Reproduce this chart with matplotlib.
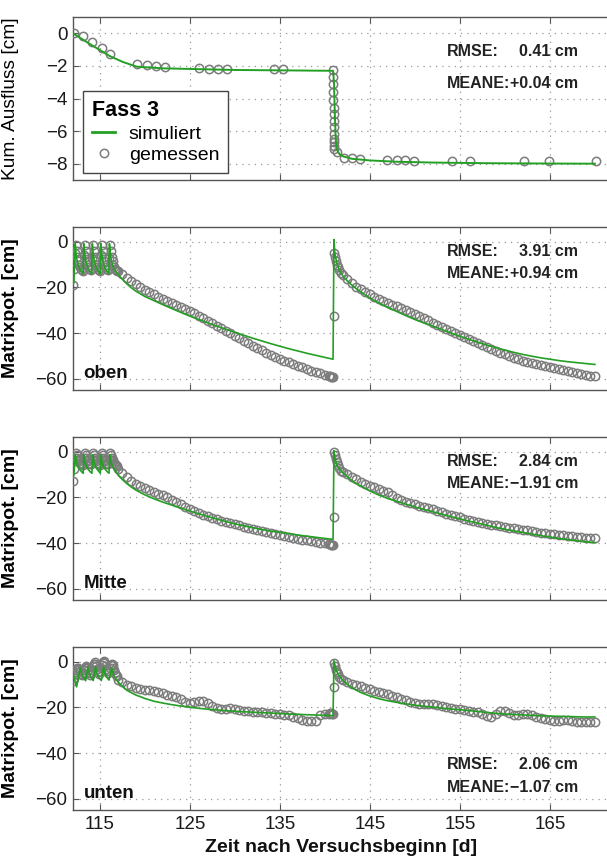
import matplotlib
matplotlib.use("Agg")
import matplotlib.pyplot as plt
from matplotlib.lines import Line2D

plt.rcParams['font.family'] = ['Liberation Sans', 'DejaVu Sans']

GREEN = "#23a023"
GRAY = "#7c7c7c"

# ---------------- Kumulativer Ausfluss ----------------
t_q_mess = [112.1, 113.1, 114.1, 115.2, 116.1, 119.1, 120.2, 121.2, 122.2,
            126.0, 127.1, 128.1, 129.1, 134.3, 135.3,
            140.9, 140.9, 140.9, 140.9, 140.9, 140.95, 140.95, 140.95,
            141.0, 141.0, 141.0, 141.0, 141.0, 141.05, 141.3,
            142.1, 143.0, 143.9, 146.9, 148.0, 148.9, 149.9, 154.1, 156.1,
            162.1, 164.9, 170.1]
q_mess = [0.0, -0.14, -0.51, -0.92, -1.27, -1.86, -1.92, -2.0, -2.06,
          -2.14, -2.18, -2.18, -2.18, -2.22, -2.22,
          -2.24, -2.69, -3.14, -3.61, -4.12, -4.57, -4.94, -5.35,
          -5.76, -6.17, -6.48, -6.69, -6.9, -7.1, -7.3,
          -7.62, -7.68, -7.7, -7.78, -7.8, -7.8, -7.82, -7.84, -7.85,
          -7.86, -7.86, -7.86]

t_q_sim = [112.0, 114.0, 116.1, 117.5, 119.1, 122.0, 130.0, 140.9,
           141.0, 141.1, 141.2, 141.3, 141.6, 142.0, 143.0, 145.0,
           148.0, 152.0, 158.0, 165.0, 170.0]
q_sim = [0.0, -0.7, -1.4, -1.75, -2.05, -2.15, -2.25, -2.3,
         -3.0, -5.0, -6.5, -7.1, -7.4, -7.55, -7.7, -7.8,
         -7.88, -7.93, -7.97, -7.99, -8.0]

# ---------------- Tensiometer: Messzeitpunkte ----------------
t_osc = [112.0, 112.1, 112.2, 112.3, 112.4, 112.5, 112.6, 112.7, 112.8, 112.9,
         113.0, 113.1, 113.2, 113.3, 113.4, 113.5, 113.6, 113.7, 113.8, 113.9,
         114.0, 114.1, 114.2, 114.3, 114.4, 114.5, 114.6, 114.7, 114.8, 114.9,
         115.0, 115.1, 115.2, 115.3, 115.4, 115.5, 115.6, 115.7, 115.8, 115.9,
         116.0, 116.1, 116.2, 116.3, 116.4, 116.5, 116.6, 116.7, 116.8, 116.9]
t_dec1 = [117.0, 117.5, 118.0, 118.5, 119.0, 119.5, 120.0, 120.5, 121.0, 121.5,
          122.0, 122.5, 123.0, 123.5, 124.0, 124.5, 125.0, 125.5, 126.0, 126.5,
          127.0, 127.5, 128.0, 128.5, 129.0, 129.5, 130.0, 130.5, 131.0, 131.5,
          132.0, 132.5, 133.0, 133.5, 134.0, 134.5, 135.0, 135.5, 136.0, 136.5,
          137.0, 137.5, 138.0, 138.5, 139.0, 139.5, 140.0, 140.5]
t_pre = [140.6, 140.7, 140.8, 140.9]
t_jump = [141.0, 141.05, 141.1, 141.2, 141.3, 141.4, 141.6, 141.8]
t_dec2 = [142.0, 142.5, 143.0, 143.5, 144.0, 144.5, 145.0, 145.5, 146.0, 146.5,
          147.0, 147.5, 148.0, 148.5, 149.0, 149.5, 150.0, 150.5, 151.0, 151.5,
          152.0, 152.5, 153.0, 153.5, 154.0, 154.5, 155.0, 155.5, 156.0, 156.5,
          157.0, 157.5, 158.0, 158.5, 159.0, 159.5, 160.0, 160.5, 161.0, 161.5,
          162.0, 162.5, 163.0, 163.5, 164.0, 164.5, 165.0, 165.5, 166.0, 166.5,
          167.0, 167.5, 168.0, 168.5, 169.0, 169.5, 170.0]
t_tens = t_osc + t_dec1 + t_pre + t_jump + t_dec2

# ---------------- oben ----------------
psi_oben = (
    [-19.0, -12.0, -5.0, -1.5, -4.0, -6.5, -8.5, -10.0, -11.0, -11.8,
     -12.3, -12.6, -6.0, -1.5, -4.0, -6.5, -8.5, -10.0, -11.0, -11.8,
     -12.3, -7.0, -1.5, -4.0, -6.5, -8.5, -10.0, -11.0, -11.8, -12.3,
     -12.6, -6.0, -1.5, -4.0, -6.5, -8.5, -10.0, -11.0, -11.8, -12.3,
     -7.0, -1.5, -4.0, -6.5, -8.5, -10.0, -11.0, -11.8, -12.4, -13.0]
    + [-12.8, -14.3, -15.8, -17.2, -18.5, -19.8, -21.0, -22.1, -23.1, -24.1,
       -25.0, -25.9, -26.8, -27.7, -28.6, -29.5, -30.4, -31.4, -32.4, -33.5,
       -34.6, -35.7, -36.8, -37.9, -39.0, -40.1, -41.2, -42.3, -43.4, -44.5,
       -45.6, -46.6, -47.6, -48.6, -49.5, -50.4, -51.3, -52.1, -52.9, -53.7,
       -54.4, -55.1, -55.8, -56.5, -57.1, -57.7, -58.3, -58.8]
    + [-59.0, -59.2, -59.4, -59.5]
    + [-32.6, -5.0, -6.5, -8.5, -10.0, -11.2, -12.5, -13.6]
    + [-14.5, -16.5, -18.2, -19.6, -20.9, -22.0, -23.0, -24.0, -24.9, -25.8,
       -26.7, -27.5, -28.3, -29.1, -30.0, -30.9, -31.8, -32.7, -33.6, -34.5,
       -35.4, -36.3, -37.2, -38.1, -39.1, -40.0, -40.9, -41.8, -42.7, -43.6,
       -44.4, -45.2, -46.0, -46.9, -47.8, -48.6, -49.4, -50.2, -50.9, -51.5,
       -52.1, -52.6, -53.1, -53.6, -54.1, -54.5, -54.9, -55.4, -55.9, -56.3,
       -56.8, -57.2, -57.6, -58.0, -58.4, -58.7, -59.0])

t_sim_oben = [112.0, 112.1, 112.25, 112.35, 112.45, 112.6, 112.75, 112.95, 113.13,
              113.2, 113.3, 113.4, 113.55, 113.7, 113.9, 114.08,
              114.15, 114.25, 114.35, 114.5, 114.65, 114.85, 115.03,
              115.1, 115.2, 115.3, 115.45, 115.6, 115.8, 115.98,
              116.05, 116.15, 116.25, 116.4, 116.55, 116.75,
              117.0, 117.5, 118.0, 118.5, 119.0, 120.0, 121.0, 122.0, 123.0, 124.0,
              125.0, 126.0, 127.0, 128.0, 129.0, 130.0, 131.0, 132.0, 133.0, 134.0,
              135.0, 136.0, 137.0, 138.0, 139.0, 140.0, 140.9,
              141.0, 141.1, 141.3, 141.6, 142.0, 142.5, 143.0, 143.5, 144.0, 145.0,
              146.0, 147.0, 148.0, 149.0, 150.0, 151.0, 152.0, 153.0, 154.0, 155.0,
              156.0, 157.0, 158.0, 159.0, 160.0, 161.0, 162.0, 163.0, 164.0, 165.0,
              166.0, 167.0, 168.0, 169.0, 170.0]
sim_oben = [-18.5, -18.0, -0.8, -5.5, -8.0, -10.3, -11.8, -13.1, -14.0,
            -0.8, -5.5, -8.0, -10.3, -11.8, -13.1, -14.0,
            -0.8, -5.5, -8.0, -10.3, -11.8, -13.1, -14.0,
            -0.8, -5.5, -8.0, -10.3, -11.8, -13.1, -14.0,
            -0.8, -5.5, -8.0, -10.3, -11.8, -13.1,
            -14.3, -16.5, -18.5, -20.2, -21.7, -24.0, -25.8, -27.6, -29.3, -31.0,
            -32.6, -34.1, -35.6, -37.0, -38.4, -39.7, -41.0, -42.3, -43.5, -44.7,
            -45.8, -46.9, -47.9, -48.9, -49.8, -50.7, -51.5,
            1.0, -5.0, -9.0, -12.5, -15.0, -17.2, -19.0, -20.6, -22.1, -24.7,
            -26.9, -28.8, -30.6, -32.4, -34.1, -35.6, -37.0, -38.5, -40.0, -41.4,
            -42.8, -44.1, -45.3, -46.4, -47.5, -48.5, -49.4, -50.2, -50.9, -51.5,
            -52.1, -52.6, -53.0, -53.4, -53.8]

# ---------------- Mitte ----------------
psi_mitte = (
    [-13.0, -7.5, -2.5, -0.5, -1.5, -2.6, -3.5, -4.2, -4.8, -5.2,
     -5.5, -5.7, -2.5, -0.5, -1.5, -2.6, -3.5, -4.2, -4.8, -5.2,
     -5.5, -3.0, -0.5, -1.5, -2.6, -3.5, -4.2, -4.8, -5.2, -5.5,
     -5.7, -2.5, -0.5, -1.5, -2.6, -3.5, -4.2, -4.8, -5.2, -5.5,
     -3.0, -0.5, -1.5, -2.6, -3.5, -4.2, -4.8, -5.3, -5.8, -6.4]
    + [-7.6, -9.4, -11.0, -12.6, -13.9, -15.0, -16.0, -16.9, -17.6, -18.3,
       -19.1, -20.0, -21.0, -22.0, -23.1, -24.2, -25.1, -26.0, -26.8, -27.6,
       -28.3, -29.0, -29.6, -30.2, -30.8, -31.3, -31.8, -32.3, -32.8, -33.3,
       -33.8, -34.3, -34.8, -35.3, -35.7, -36.1, -36.5, -36.9, -37.3, -37.7,
       -38.1, -38.5, -38.9, -39.2, -39.5, -39.8, -40.1, -40.4]
    + [-40.6, -40.7, -40.8, -41.0]
    + [-28.4, 0.0, -1.5, -3.0, -4.5, -6.0, -7.3, -8.4]
    + [-9.0, -9.9, -10.9, -12.0, -13.1, -14.0, -14.8, -15.6, -16.3, -17.0,
       -17.8, -18.9, -20.1, -21.0, -21.8, -22.5, -23.1, -23.7, -24.2, -24.7,
       -25.3, -25.9, -26.5, -27.1, -27.6, -28.1, -28.7, -29.3, -29.8, -30.2,
       -30.7, -31.1, -31.5, -31.9, -32.2, -32.5, -32.9, -33.3, -33.6, -33.9,
       -34.2, -34.5, -34.8, -35.1, -35.4, -35.6, -35.9, -36.2, -36.4, -36.7,
       -36.9, -37.1, -37.3, -37.5, -37.6, -37.8, -37.9])

t_sim_mitte = [112.0, 112.1, 112.25, 112.35, 112.5, 112.7, 112.95, 113.13,
               113.2, 113.3, 113.45, 113.65, 113.9, 114.1,
               114.2, 114.3, 114.45, 114.65, 114.9, 115.03,
               115.1, 115.2, 115.35, 115.55, 115.8, 116.0,
               116.1, 116.2, 116.35, 116.55, 116.8,
               117.0, 117.5, 118.0, 118.5, 119.0, 119.5, 120.0, 121.0, 122.0, 123.0,
               124.0, 125.0, 126.0, 127.0, 128.0, 129.0, 130.0, 131.0, 132.0, 133.0,
               134.0, 135.0, 136.0, 137.0, 138.0, 139.0, 140.0, 140.9,
               141.0, 141.15, 141.4, 141.7, 142.0, 142.5, 143.0, 143.5, 144.0, 145.0,
               146.0, 147.0, 148.0, 149.0, 150.0, 151.0, 152.0, 153.0, 154.0, 155.0,
               156.0, 157.0, 158.0, 159.0, 160.0, 161.0, 162.0, 163.0, 164.0, 165.0,
               166.0, 167.0, 168.0, 169.0, 170.0]
sim_mitte = [-10.5, -10.3, -1.3, -4.0, -6.0, -7.5, -8.7, -9.4,
             -1.3, -4.0, -6.0, -7.5, -8.7, -9.4,
             -1.3, -4.0, -6.0, -7.5, -8.7, -9.4,
             -1.3, -4.0, -6.0, -7.5, -8.7, -9.4,
             -1.3, -4.0, -6.0, -7.5, -8.8,
             -10.2, -12.2, -14.0, -15.5, -16.8, -17.9, -18.9, -20.6, -22.1, -23.4,
             -24.7, -26.0, -27.2, -28.4, -29.5, -30.6, -31.6, -32.5, -33.3, -34.1,
             -34.8, -35.3, -35.9, -36.5, -37.0, -37.5, -38.0, -38.4,
             0.5, -3.5, -6.5, -8.0, -9.2, -11.0, -12.7, -14.0, -15.0, -17.2,
             -19.0, -20.5, -21.7, -23.0, -24.2, -25.3, -26.3, -27.4, -28.4, -29.4,
             -30.4, -31.3, -32.2, -33.2, -34.0, -34.7, -35.4, -36.1, -36.8, -37.4,
             -38.0, -38.5, -39.0, -39.5, -39.9]

# ---------------- unten ----------------
psi_unten = (
    [-8.5, -7.0, -5.5, -4.3, -3.4, -2.8, -2.5, -3.2, -4.2, -5.2,
     -6.0, -5.0, -3.8, -2.8, -2.2, -2.0, -2.8, -3.8, -4.8, -5.6,
     -5.0, -3.5, -2.0, -0.8, 0.0, -0.8, -2.0, -3.2, -4.3, -5.2,
     -4.2, -2.8, -1.3, -0.2, 0.3, -0.5, -1.8, -3.0, -4.2, -5.0,
     -4.2, -2.8, -1.5, -0.8, -1.5, -2.6, -3.7, -4.7, -5.6, -6.4]
    + [-8.0, -9.0, -10.0, -10.8, -11.4, -11.8, -12.2, -12.5, -12.8, -13.2,
       -13.8, -14.4, -15.0, -15.5, -16.5, -17.6, -18.0, -17.6, -17.3, -17.1,
       -17.9, -19.3, -20.2, -20.7, -20.9, -20.2, -20.8, -21.3, -21.5, -21.6,
       -21.8, -22.0, -22.2, -22.3, -22.5, -22.8, -23.0, -23.3, -23.5, -24.0,
       -24.7, -25.5, -26.0, -26.0, -26.0, -23.5, -23.0, -22.8]
    + [-22.6, -22.5, -22.8, -23.0]
    + [-11.0, -0.7, -2.0, -3.5, -4.5, -5.5, -6.5, -7.5]
    + [-8.0, -8.7, -9.6, -10.3, -10.8, -11.4, -12.0, -12.6, -13.2, -13.8,
       -14.3, -14.9, -15.6, -16.2, -16.9, -17.5, -18.0, -18.3, -18.5, -18.6,
       -18.7, -19.0, -19.3, -19.7, -20.1, -20.5, -20.9, -21.3, -21.7, -21.8,
       -22.0, -22.8, -23.8, -24.2, -23.0, -21.7, -21.6, -22.5, -23.5, -23.3,
       -23.0, -22.8, -23.5, -24.3, -24.8, -25.2, -25.4, -25.9, -26.0, -25.7,
       -25.6, -25.8, -26.2, -26.5, -26.3, -26.4, -26.5])

t_sim_unten = [112.0, 112.4, 112.8, 112.9, 113.05, 113.25, 113.4,
               113.65, 113.75, 113.9, 114.1, 114.25,
               114.5, 114.6, 114.75, 114.95, 115.15,
               115.4, 115.5, 115.65, 115.85, 116.0,
               116.3, 116.4, 116.55, 116.75,
               117.0, 117.5, 118.0, 118.5, 119.0, 119.5, 120.0, 121.0, 122.0, 123.0,
               124.0, 125.0, 126.0, 127.0, 128.0, 129.0, 130.0, 132.0, 134.0, 136.0,
               138.0, 140.9,
               141.0, 141.2, 141.5, 142.0, 142.5, 143.0, 143.5, 144.0, 145.0, 146.0,
               147.0, 148.0, 149.0, 150.0, 151.0, 152.0, 153.0, 154.0, 155.0, 156.0,
               157.0, 158.0, 159.0, 160.0, 161.0, 162.0, 163.0, 164.0, 165.0, 166.0,
               167.0, 168.0, 169.0, 170.0]
sim_unten = [-5.0, -11.0, -2.5, -4.3, -6.0, -7.3, -8.3,
             -2.4, -4.3, -6.0, -7.3, -8.2,
             -2.3, -4.3, -6.0, -7.3, -8.2,
             -2.3, -4.3, -6.0, -7.3, -8.0,
             -2.5, -4.3, -6.0, -7.3,
             -8.8, -10.8, -12.5, -13.6, -14.6, -15.3, -16.1, -17.3, -18.1, -18.8,
             -19.4, -19.9, -20.4, -20.8, -21.1, -21.4, -21.7, -22.1, -22.5, -22.9,
             -23.2, -23.6,
             0.5, -3.0, -5.8, -8.2, -10.0, -11.3, -12.5, -13.5, -15.0, -16.2,
             -17.1, -17.8, -18.5, -19.0, -19.5, -19.9, -20.3, -20.7, -21.0, -21.4,
             -21.8, -22.2, -22.6, -22.9, -23.1, -23.3, -23.5, -23.7, -23.8, -23.9,
             -24.0, -24.1, -24.2, -24.2]

ylabels = ["Kum. Ausfluss [cm]", "Matrixpot. [cm]", "Matrixpot. [cm]", "Matrixpot. [cm]"]
tiefen = [None, "oben", "Mitte", "unten"]
rmse = ["0.41 cm", "3.91 cm", "2.84 cm", "2.06 cm"]
meane = ["+0.04 cm", "+0.94 cm", "\u22121.91 cm", "\u22121.07 cm"]
xticks = [115, 125, 135, 145, 155, 165]

# ---------------- Layout (Pixel der Vorlage) ----------------
W, H = 607.0, 860.0
x0, x1 = 73.0, 607.5
tops = [17, 227, 437, 647]
ph = 163.0
stat_y = [(0.791, 0.595), (0.848, 0.716), (0.848, 0.716), (0.282, 0.139)]

fig = plt.figure(figsize=(W / 100, H / 100), dpi=100)
axes = [fig.add_axes([x0 / W, 1 - (top + ph) / H, (x1 - x0) / W, ph / H]) for top in tops]

series = [(t_tens, psi_oben, t_sim_oben, sim_oben),
          (t_tens, psi_mitte, t_sim_mitte, sim_mitte),
          (t_tens, psi_unten, t_sim_unten, sim_unten)]

mk = dict(marker="o", ls="none", mfc="none", mec=GRAY, ms=6, mew=1.1)

ax = axes[0]
ax.plot(t_q_mess, q_mess, zorder=3, **mk)
ax.plot(t_q_sim, q_sim, color=GREEN, lw=1.4, zorder=4)
ax.set_ylim(-9, 1)
ax.set_yticks([0, -2, -4, -6, -8])

for ax, (tm, ym, ts, ys) in zip(axes[1:], series):
    ax.plot(tm, ym, zorder=3, **mk)
    ax.plot(ts, ys, color=GREEN, lw=1.2, zorder=4)
    ax.set_ylim(-65, 6.5)
    ax.set_yticks([0, -20, -40, -60])

for i, ax in enumerate(axes):
    ax.set_xlim(112.0, 171.4)
    ax.set_xticks(xticks)
    ax.grid(True, linestyle=(0, (1, 4)), color="#999999", linewidth=0.9)
    ax.set_axisbelow(True)
    ax.tick_params(direction="in", length=4, width=0.8, top=True, right=False,
                   colors="#555555", labelcolor="#1a1a1a", labelsize=13.5, pad=4)
    for s in ax.spines.values():
        s.set_color("#555555")
        s.set_linewidth(1.0)
    if i < 3:
        ax.tick_params(labelbottom=False)
    if i == 0:
        ax.set_ylabel(ylabels[i], fontsize=13.8)
    else:
        ax.set_ylabel(ylabels[i], fontsize=14, fontweight="bold")
        ax.text(0.02, 0.10, tiefen[i], transform=ax.transAxes, fontsize=13.5,
                fontweight="bold", va="center", ha="left", color="#111111")
    ax.yaxis.set_label_coords(-0.101, 0.5)
    ya, yb = stat_y[i]
    ax.text(0.70, ya, "RMSE:", transform=ax.transAxes, fontsize=11.5,
            fontweight="bold", va="center", color="#222222")
    ax.text(0.834, ya, rmse[i], transform=ax.transAxes, fontsize=11.5,
            fontweight="bold", va="center", color="#222222")
    ax.text(0.70, yb, "MEANE:", transform=ax.transAxes, fontsize=11.5,
            fontweight="bold", va="center", color="#222222")
    ax.text(0.818, yb, meane[i], transform=ax.transAxes, fontsize=11.5,
            fontweight="bold", va="center", color="#222222")

handles = [Line2D([], [], color=GREEN, lw=2),
           Line2D([], [], marker="o", ls="none", mfc="none", mec=GRAY, ms=6, mew=1.1)]
leg = axes[0].legend(handles, ["simuliert", "gemessen"], title="Fass 3",
                     loc="lower left", bbox_to_anchor=(0.019, 0.043), borderaxespad=0,
                     fontsize=14, title_fontproperties={"size": 15.5, "weight": "bold"},
                     alignment="left", fancybox=False, framealpha=1, edgecolor="#444444",
                     handlelength=1.2, handletextpad=0.7, labelspacing=0.2,
                     borderpad=0.45)
leg.get_frame().set_linewidth(1.0)

fig.text(0.562, 1 - 848 / H, "Zeit nach Versuchsbeginn [d]", fontsize=14,
         fontweight="bold", ha="center", va="center", color="#111111")

fig.savefig("out.png", dpi=100)
